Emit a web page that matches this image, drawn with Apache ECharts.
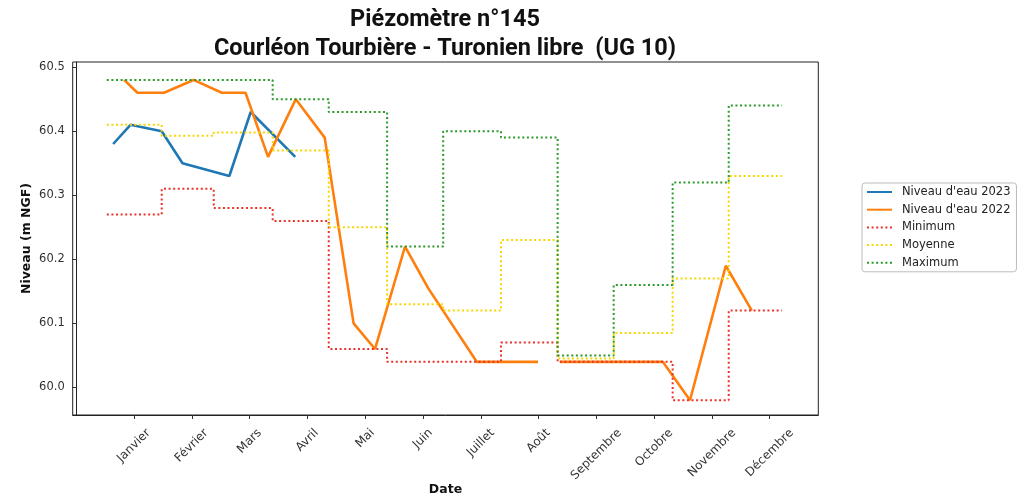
<!DOCTYPE html>
<html>
<head>
<meta charset="utf-8">
<script src="https://cdn.jsdelivr.net/npm/echarts@6/dist/echarts.min.js"></script>
<style>
  html, body { margin: 0; padding: 0; background: #fff; }
  #chart { width: 1035px; height: 500px; }
</style>
</head>
<body>
<div id="chart"></div>
<script>
// mois affichés sur l'axe (position 1..12)
var months = ['Janvier', 'Février', 'Mars', 'Avril', 'Mai', 'Juin', 'Juillet', 'Août', 'Septembre', 'Octobre', 'Novembre', 'Décembre'];
var monthTicks = [1, 2, 3, 4, 5, 6, 7, 8, 9, 10, 11, 12];
var levelTicks = [60.0, 60.1, 60.2, 60.3, 60.4, 60.5];

// niveau 2023
var x2023 = [0.64, 0.94, 1.48, 1.84, 2.65, 3.02, 3.79];
var y2023 = [60.38, 60.41, 60.40, 60.35, 60.33, 60.43, 60.36];

// niveau 2022 (null = lacune)
var x2022 = [0.83, 1.06, 1.52, 2.03, 2.52, 2.93, 3.32, 3.80, 4.30, 4.80, 5.17, 5.69, 6.09, 6.93, 7.99, 8.18, 8.37, 10.15, 10.62, 11.24, 11.69];
var y2022 = [60.48, 60.46, 60.46, 60.48, 60.46, 60.46, 60.36, 60.45, 60.39, 60.10, 60.06, 60.22, 60.155, 60.04, 60.04, null, 60.04, 60.04, 59.98, 60.19, 60.12];

// statistiques mensuelles (paliers)
var stepX = [0.53, 1.48, 2.38, 3.40, 4.37, 5.38, 6.35, 7.35, 8.33, 9.30, 10.32, 11.29, 12.21];
var minVals = [60.27, 60.31, 60.28, 60.26, 60.06, 60.04, 60.04, 60.07, 60.04, 60.04, 59.98, 60.12];
var moyVals = [60.41, 60.393, 60.398, 60.37, 60.25, 60.13, 60.12, 60.23, 60.045, 60.085, 60.17, 60.33];
var maxVals = [60.48, 60.48, 60.48, 60.45, 60.43, 60.22, 60.40, 60.39, 60.05, 60.16, 60.32, 60.44];

var FONT = 'DejaVu Sans';
var LABEL_SIZE = 12;

function pairs(xs, ys) {
	return xs.map(function (x, i) { return [x, ys[i]]; });
}

function steps(vals) {
	var d = vals.map(function (v, i) { return [stepX[i], v]; });
	d.push([stepX[stepX.length - 1], vals[vals.length - 1]]);
	return d;
}

// étiquettes tournées centrées sous le tick (comme matplotlib)
var ctx = document.createElement('canvas').getContext('2d');
ctx.font = LABEL_SIZE + 'px "' + FONT + '"';
var rich = {};
months.forEach(function (m, i) {
	var w = ctx.measureText(m).width;
	rich['m' + i] = {
		fontFamily: FONT,
		fontSize: LABEL_SIZE,
		color: '#333',
		padding: [w / 2, w / 2, 0, 0]
	};
});

var chart = echarts.init(document.getElementById('chart'));

function dotted(name, color, vals) {
	return {
		name: name,
		type: 'line',
		step: 'end',
		symbol: 'none',
		color: color,
		lineStyle: { color: color, width: 2, type: [2, 2.6] },
		data: steps(vals)
	};
}

chart.setOption({
	animation: false,
	title: {
		text: 'Piézomètre n°145\nCourléon Tourbière - Turonien libre  (UG 10)',
		left: 445,
		textAlign: 'center',
		top: 6,
		padding: 0,
		textStyle: {
			fontFamily: 'Roboto',
			fontWeight: 'bold',
			fontSize: 23.5,
			lineHeight: 28.5,
			color: '#111'
		}
	},
	legend: {
		orient: 'vertical',
		left: 862,
		top: 183,
		padding: [3, 6, 3, 4],
		itemWidth: 25,
		itemHeight: 12,
		itemGap: 5.7,
		borderColor: '#bbb',
		borderWidth: 1,
		borderRadius: 3,
		itemStyle: { opacity: 0 },
		textStyle: {
			fontFamily: FONT,
			fontSize: 11.5,
			color: '#222',
			padding: [0, 0, 0, 5]
		},
		data: ["Niveau d'eau 2023", "Niveau d'eau 2022", 'Minimum', 'Moyenne', 'Maximum']
	},
	grid: {
		left: 72.7,
		right: 216.7,
		top: 62,
		bottom: 85,
		outerBoundsMode: 'none',
		show: true,
		borderColor: '#222',
		borderWidth: 1
	},
	xAxis: {
		type: 'value',
		min: -0.06,
		max: 12.84,
		name: 'Date',
		nameLocation: 'middle',
		nameGap: 75,
		nameMoveOverlap: false,
		nameTextStyle: {
			fontFamily: FONT,
			fontWeight: 'bold',
			fontSize: 12.5,
			color: '#111',
			verticalAlign: 'middle'
		},
		axisLine: { show: true, lineStyle: { color: '#222' } },
		axisTick: { show: true, length: 4, lineStyle: { color: '#333' }, customValues: monthTicks },
		splitLine: { show: false },
		axisLabel: {
			customValues: monthTicks,
			rotate: 45,
			align: 'center',
			verticalAlign: 'middle',
			margin: 16,
			formatter: function (v) {
				var i = Math.round(v) - 1;
				return '{m' + i + '|' + months[i] + '}';
			},
			rich: rich
		}
	},
	yAxis: {
		type: 'value',
		min: 59.957,
		max: 60.508,
		name: 'Niveau (m NGF)',
		nameLocation: 'middle',
		nameGap: 39,
		nameMoveOverlap: false,
		nameRotate: 90,
		nameTextStyle: {
			fontFamily: FONT,
			fontWeight: 'bold',
			fontSize: 12.5,
			color: '#111'
		},
		axisLine: { show: true, lineStyle: { color: '#222' } },
		axisTick: { show: true, length: 4, lineStyle: { color: '#333' }, customValues: levelTicks },
		splitLine: { show: false },
		axisLabel: {
			customValues: levelTicks,
			margin: 8,
			fontFamily: FONT,
			fontSize: 11.5,
			color: '#333',
			formatter: function (v) { return v.toFixed(1); }
		}
	},
	series: [
		{
			name: "Niveau d'eau 2023",
			type: 'line',
			symbol: 'none',
			color: '#1f77b4',
			lineStyle: { color: '#1f77b4', width: 2.6 },
			data: pairs(x2023, y2023)
		},
		{
			name: "Niveau d'eau 2022",
			type: 'line',
			symbol: 'none',
			connectNulls: false,
			color: '#ff7f0e',
			lineStyle: { color: '#ff7f0e', width: 2.6 },
			data: pairs(x2022, y2022)
		},
		dotted('Minimum', '#e8332a', minVals),
		dotted('Moyenne', '#f7d600', moyVals),
		dotted('Maximum', '#2a9a2a', maxVals)
	]
});
</script>
</body>
</html>
